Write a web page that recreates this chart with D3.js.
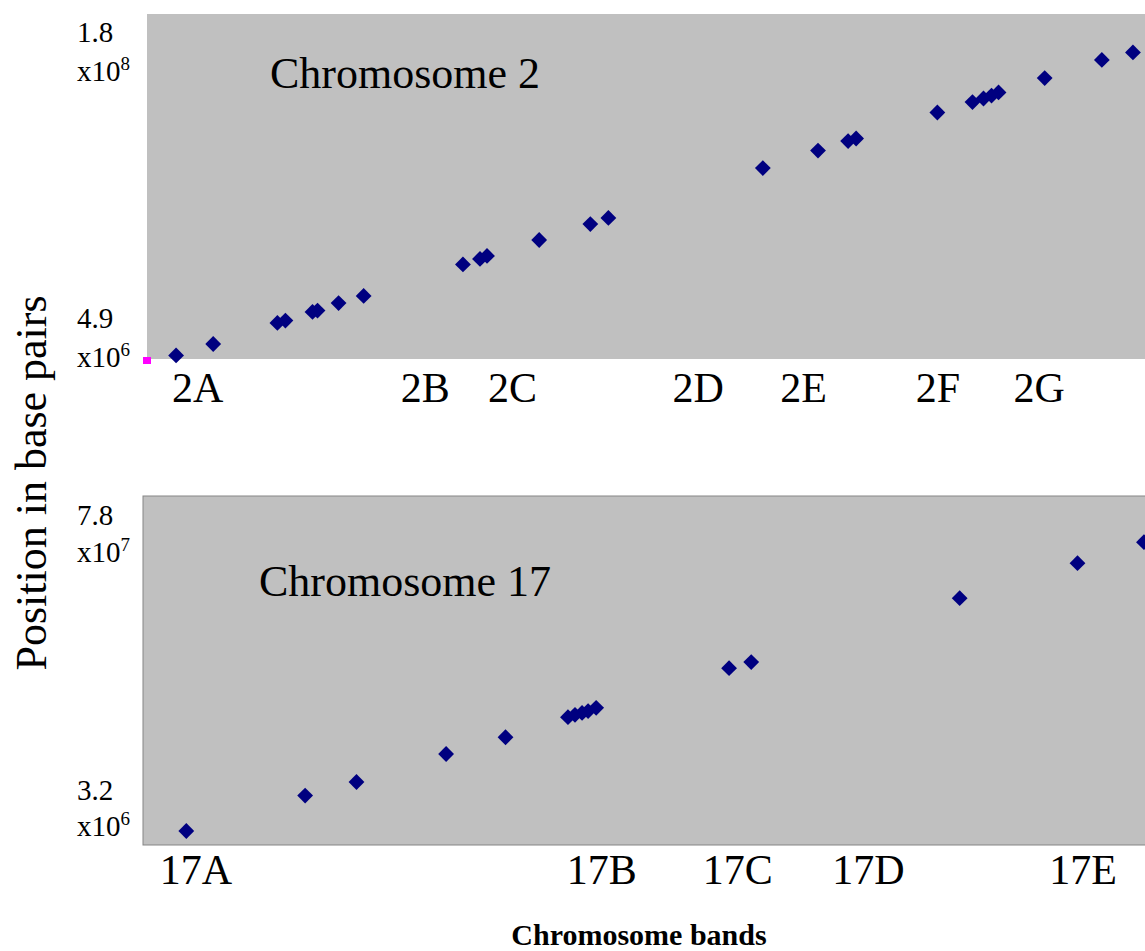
<!DOCTYPE html>
<html lang="en">
  <head>
    <meta charset="utf-8" />
    <title>Chromosome band positions</title>
    <script src="https://d3js.org/d3.v7.min.js"></script>
    <style type="text/css">
      body {
        margin: 0;
        background: #ffffff;
      }
      svg text {
        font-family: "Liberation Serif", "Times New Roman", serif;
        fill: #000000;
      }
    </style>
  </head>
  <body>
    <script type="text/javascript">
      //Width and height
      var w = 1145;
      var h = 951;

      //Chromosome 2: relative position along the chromosome (0-100) and position in bp
      var chr2X = [2.9, 6.6, 13.0, 13.8, 16.5, 17.0, 19.1, 21.6, 31.5, 33.2, 33.9,
        39.1, 44.2, 46.0, 61.4, 66.9, 69.9, 70.7, 78.8, 82.3, 83.4, 84.2, 84.9,
        89.5, 95.2, 98.3];
      var chr2Y = [6.7, 12.5, 23.2, 24.4, 28.8, 29.5, 33.3, 36.9, 52.9, 55.7, 57.2,
        65.3, 73.4, 76.5, 101.8, 110.7, 115.5, 116.8, 130.0, 135.3, 137.1, 138.6,
        140.2, 147.5, 156.7, 160.5].map(function (d) { return d * 1e6; });
      var chr2Bands = ["2A", "2B", "2C", "2D", "2E", "2F", "2G"];
      var chr2BandPos = [5.0, 27.7, 36.4, 54.9, 65.4, 78.8, 88.9];
      var chr2YTicks = [4.9e6, 1.8e8];
      var chr2YMant = ["4.9", "1.8"];
      var chr2YExp = ["6", "8"];

      //Chromosome 17
      var chr17X = [4.3, 16.1, 21.2, 30.1, 36.0, 42.2, 42.9, 43.6, 44.2, 45.0,
        58.2, 60.4, 81.1, 92.8, 99.4];
      var chr17Y = [6.2, 13.8, 16.7, 22.7, 26.3, 30.6, 31.1, 31.5, 31.9, 32.6,
        41.1, 42.4, 56.1, 63.6, 68.1].map(function (d) { return d * 1e6; });
      var chr17Bands = ["17A", "17B", "17C", "17D", "17E"];
      var chr17BandPos = [5.2, 45.5, 59.0, 72.0, 93.3];
      var chr17YTicks = [3.2e6, 7.8e7];
      var chr17YMant = ["3.2", "7.8"];
      var chr17YExp = ["6", "7"];

      //Origin marker (second series)
      var refX = [0];
      var refY = [4.9e6];

      var panels = [
        {
          title: "Chromosome 2", x: chr2X, y: chr2Y, bands: chr2Bands, bandPos: chr2BandPos,
          yTicks: chr2YTicks, yMant: chr2YMant, yExp: chr2YExp,
          left: 147, right: 1150, top: 14, bottom: 359, stroke: "none",
          titleX: 270, titleY: 88, bandPad: 13,
          mantDy: [-31, 28], expDy: [8, 67]
        },
        {
          title: "Chromosome 17", x: chr17X, y: chr17Y, bands: chr17Bands, bandPos: chr17BandPos,
          yTicks: chr17YTicks, yMant: chr17YMant, yExp: chr17YExp,
          left: 143, right: 1150, top: 496, bottom: 845, stroke: "#858585",
          titleX: 259, titleY: 596, bandPad: 9,
          mantDy: [-45, 29], expDy: [-9, 66]
        }
      ];

      //Create SVG element
      var svg = d3
        .select("body")
        .append("svg")
        .attr("width", w)
        .attr("height", h);

      var diamond = d3.symbol().type(d3.symbolSquare).size(125);

      panels.forEach(function (p, pi) {
        var xScale = d3.scaleLinear().domain([0, 100]).range([p.left, p.right]);
        var yScale = d3
          .scaleLinear()
          .domain([p.yTicks[0], p.yTicks[1]])
          .range([p.bottom, p.top]);

        var g = svg.append("g");

        //Plot area
        g.append("rect")
          .attr("x", p.left)
          .attr("y", p.top)
          .attr("width", p.right - p.left)
          .attr("height", p.bottom - p.top)
          .attr("fill", "#c0c0c0")
          .attr("stroke", p.stroke)
          .attr("stroke-width", 1);

        //Title inside plot
        g.append("text")
          .attr("x", p.titleX)
          .attr("y", p.titleY)
          .style("font-size", "44px")
          .text(p.title);

        //Band labels
        var axis = d3
          .axisBottom(xScale)
          .tickValues(p.bandPos)
          .tickFormat(function (d, i) { return p.bands[i]; })
          .tickSize(0)
          .tickPadding(p.bandPad);

        var ax = g.append("g")
          .attr("transform", "translate(0," + p.bottom + ")")
          .call(axis);
        ax.select(".domain").remove();
        ax.selectAll("text")
          .style("font-size", "42px")
          .style("font-family", "'Liberation Serif', 'Times New Roman', serif")
          .attr("fill", "#000");

        //Y tick labels (mantissa + x10^exp)
        p.yTicks.forEach(function (t, i) {
          g.append("text")
            .attr("x", 77)
            .attr("y", yScale(t) + p.mantDy[i])
            .style("font-size", "29px")
            .text(p.yMant[i]);
          var e = g.append("text")
            .attr("x", 77)
            .attr("y", yScale(t) + p.expDy[i])
            .style("font-size", "29px");
          e.append("tspan").text("x10");
          e.append("tspan")
            .attr("dy", -11)
            .style("font-size", "19px")
            .text(p.yExp[i]);
        });

        //Points
        g.selectAll("path.pt")
          .data(p.x)
          .enter()
          .append("path")
          .attr("class", "pt")
          .attr("d", diamond)
          .attr("transform", function (d, i) {
            return "translate(" + xScale(d) + "," + yScale(p.y[i]) + ") rotate(45)";
          })
          .attr("fill", "#000080");

        if (pi === 0) {
          g.selectAll("rect.ref")
            .data(refX)
            .enter()
            .append("rect")
            .attr("class", "ref")
            .attr("x", function (d) { return xScale(d) - 4; })
            .attr("y", function (d, i) { return yScale(refY[i]) - 2; })
            .attr("width", 8)
            .attr("height", 7)
            .attr("fill", "#ff00ff");
        }
      });

      //Axis titles
      svg.append("text")
        .attr("transform", "translate(46,483) rotate(-90)")
        .attr("text-anchor", "middle")
        .style("font-size", "44px")
        .text("Position in base pairs");

      svg.append("text")
        .attr("x", 639)
        .attr("y", 945)
        .attr("text-anchor", "middle")
        .style("font-size", "30px")
        .style("font-weight", "bold")
        .text("Chromosome bands");
    </script>
  </body>
</html>
